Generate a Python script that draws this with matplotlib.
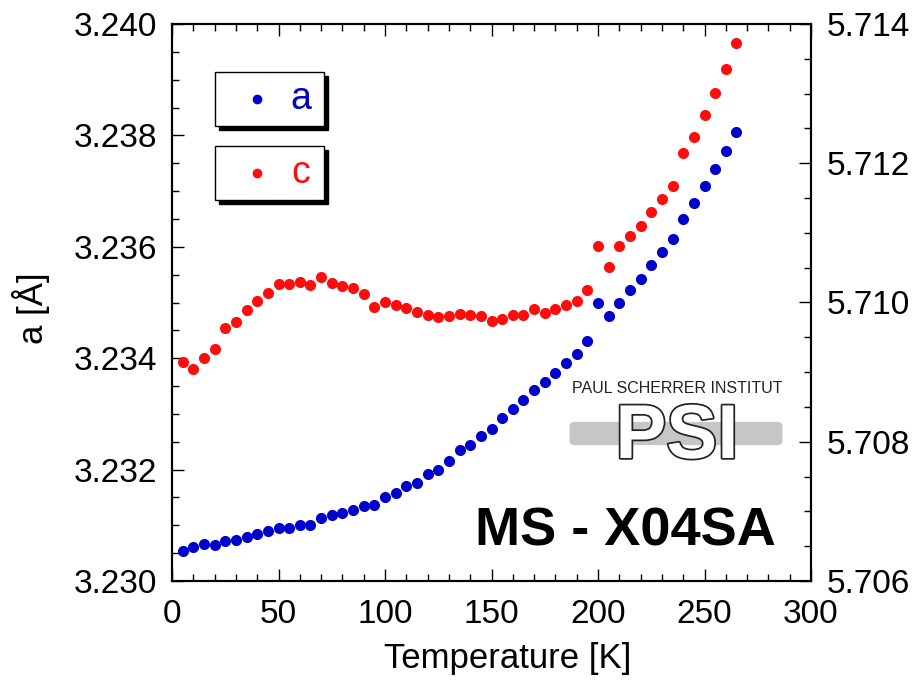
import matplotlib
matplotlib.use("Agg")
import matplotlib.pyplot as plt
import matplotlib.patheffects as pe
from matplotlib.patches import Rectangle, FancyBboxPatch
from matplotlib.ticker import MultipleLocator, FormatStrFormatter

plt.rcParams['font.family'] = ['Liberation Sans', 'DejaVu Sans']

# temperature [K]
temp = [5, 10, 15, 20, 25, 30, 35, 40, 45, 50, 55, 60, 65, 70, 75, 80, 85, 90,
        95, 100, 105, 110, 115, 120, 125, 130, 135, 140, 145, 150, 155, 160,
        165, 170, 175, 180, 185, 190, 195, 200, 205, 210, 215, 220, 225, 230,
        235, 240, 245, 250, 255, 260, 265]

# lattice parameter a [A] (left axis)
a_vals = [3.23054, 3.23061, 3.23066, 3.23065, 3.23072, 3.23074, 3.23079,
          3.23084, 3.23089, 3.23095, 3.23096, 3.23101, 3.23101, 3.23114,
          3.23118, 3.23122, 3.23128, 3.23135, 3.23136, 3.23150, 3.23158,
          3.23170, 3.23176, 3.23192, 3.23200, 3.23215, 3.23235, 3.23245,
          3.23260, 3.23273, 3.23292, 3.23308, 3.23325, 3.23343, 3.23358,
          3.23374, 3.23391, 3.23408, 3.23431, 3.23500, 3.23475, 3.23500,
          3.23522, 3.23543, 3.23567, 3.23591, 3.23614, 3.23650, 3.23678,
          3.23709, 3.23739, 3.23772, 3.23807]

# lattice parameter c [A] (right axis)
c_vals = [5.70914, 5.70904, 5.70920, 5.70933, 5.70964, 5.70972, 5.70989,
          5.71002, 5.71014, 5.71027, 5.71027, 5.71030, 5.71025, 5.71037,
          5.71028, 5.71024, 5.71021, 5.71012, 5.70993, 5.71001, 5.70996,
          5.70992, 5.70986, 5.70982, 5.70979, 5.70981, 5.70983, 5.70982,
          5.70981, 5.70974, 5.70977, 5.70982, 5.70982, 5.70990, 5.70985,
          5.70990, 5.70996, 5.71002, 5.71018, 5.71081, 5.71051, 5.71081,
          5.71096, 5.71110, 5.71130, 5.71148, 5.71168, 5.71215, 5.71238,
          5.71269, 5.71301, 5.71336, 5.71373]

W, H = 918, 684
blue = "#0000CD"
red = "#FF0D0D"

fig = plt.figure(figsize=(W / 100, H / 100), dpi=100)
ax = fig.add_axes([172 / W, 1 - 581 / H, (811 - 172) / W, (581 - 24) / H])
ax2 = ax.twinx()


def fx(x):
    return x / W


def fy(y):
    return 1 - y / H


ax.plot(temp, a_vals, 'o', color=blue, ms=8, mec='none', zorder=3)
ax2.plot(temp, c_vals, 'o', color=red, ms=8, mec='none', zorder=3)

ax.set_xlim(0, 300)
ax.set_ylim(3.230, 3.240)
ax2.set_ylim(5.706, 5.714)

ax.xaxis.set_major_locator(MultipleLocator(50))
ax.xaxis.set_minor_locator(MultipleLocator(10))
ax.yaxis.set_major_locator(MultipleLocator(0.002))
ax.yaxis.set_minor_locator(MultipleLocator(0.0005))
ax.yaxis.set_major_formatter(FormatStrFormatter('%.3f'))
ax2.yaxis.set_major_locator(MultipleLocator(0.002))
ax2.yaxis.set_minor_locator(MultipleLocator(0.0005))
ax2.yaxis.set_major_formatter(FormatStrFormatter('%.3f'))

ax.tick_params(axis='x', which='both', direction='in', top=True, bottom=True,
               labelsize=24, pad=13)
ax.tick_params(axis='y', which='both', direction='in', left=True, right=False,
               labelsize=24, pad=11)
ax2.tick_params(axis='y', which='both', direction='in', labelsize=24, pad=11)
for a in (ax, ax2):
    a.tick_params(which='major', length=8.5, width=1)
    a.tick_params(which='minor', length=5, width=1)
    for s in a.spines.values():
        s.set_linewidth(1.5)

ax.set_xlabel("Temperature [K]", fontsize=25)
ax.xaxis.set_label_coords((508 - 172) / (811 - 172), -0.11)
fig.text(fx(31), fy(308), "a [Å]", rotation=90, fontsize=25,
         ha='center', va='center')

# legend boxes with drop shadow
for (y0, col, lab) in [(72, blue, "a"), (146, red, "c")]:
    fig.patches.append(Rectangle((fx(219), fy(y0 + 58)), 109 / W, 54 / H,
                                 transform=fig.transFigure, color='black',
                                 zorder=5))
    fig.patches.append(Rectangle((fx(215), fy(y0 + 54)), 109 / W, 54 / H,
                                 transform=fig.transFigure, facecolor='white',
                                 edgecolor='black', lw=1, zorder=6))
    fig.lines.append(plt.Line2D([fx(257)], [fy(y0 + 27)], marker='o', ms=7,
                                color=col, mec='none',
                                transform=fig.transFigure, zorder=7))
    fig.text(fx(301), fy(y0 + 27), lab, color=col, fontsize=27,
             family='Liberation Sans', ha='center', va='center', zorder=7)

# PSI logo
fig.patches.append(FancyBboxPatch((fx(575), fy(441)), 202 / W, 15 / H,
                                  boxstyle="round,pad=0.006",
                                  transform=fig.transFigure,
                                  facecolor='#C6C6C8', edgecolor='none',
                                  zorder=5))
fig.text(fx(677), fy(389), "PAUL SCHERRER INSTITUT", fontsize=11.5,
         ha='center', va='center', color='#222222', zorder=6)
fig.text(fx(677), fy(458), "PSI", fontsize=55, fontweight='bold',
         ha='center', va='baseline', color='white', zorder=6,
         path_effects=[pe.Stroke(linewidth=2.5, foreground='#222222'),
                       pe.Normal()])

fig.text(fx(475), fy(545), "MS - X04SA", fontsize=39, fontweight='bold',
         ha='left', va='baseline', zorder=6)

fig.savefig("out.png", dpi=100)
